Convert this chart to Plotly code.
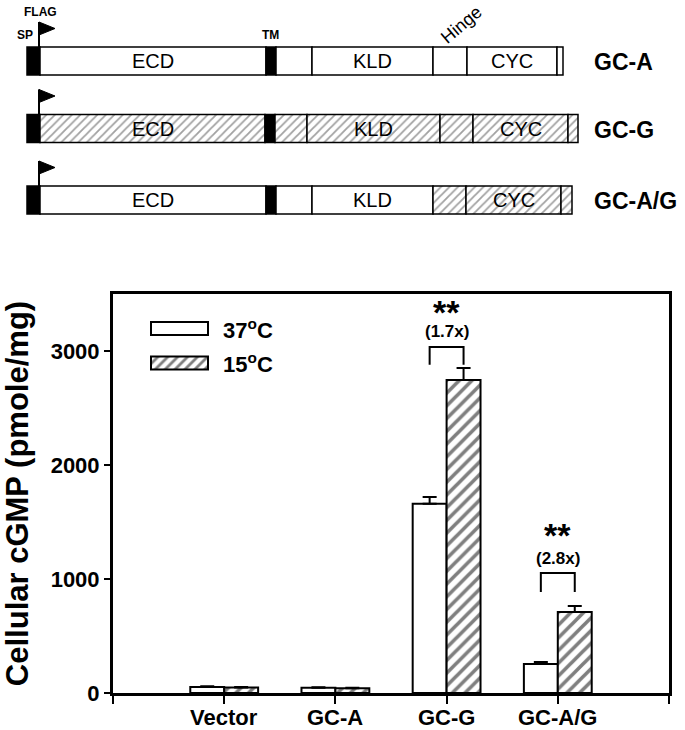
import plotly.graph_objects as go

W, H = 685, 730

# ---- bar chart data ----
groups = ['Vector', 'GC-A', 'GC-G', 'GC-A/G']
cgmp_37 = [53, 45, 1660, 254]
err_37 = [6, 5, 60, 18]
cgmp_15 = [48, 42, 2745, 710]
err_15 = [5, 4, 105, 53]
fold_text = ['', '', '(1.7x)', '(2.8x)']
bracket_low = [None, None, 2880, 886]
bracket_high = [None, None, 3035, 1053]
fold_y = [None, None, 3167, 1184]
star_y = [None, None, 3340, 1385]
y_ticks = [0, 1000, 2000, 3000]

# ---- domain schematic (segment edges along each construct) ----
constructs = ['GC-A', 'GC-G', 'GC-A/G']
edges_gca = [27, 40, 266, 276, 312, 433, 467, 557, 563]
edges_gcg = [27, 40, 265, 275, 307, 440, 473, 568, 578]
edges_gcag = [27, 40, 266, 276, 312, 433, 466, 561, 572]
kinds_gca = ['k', 'w', 'k', 'w', 'w', 'w', 'w', 'w']
kinds_gcg = ['k', 'h', 'k', 'h', 'h', 'h', 'h', 'h']
kinds_gcag = ['k', 'w', 'k', 'w', 'w', 'h', 'h', 'h']
seg_names = ['', 'ECD', '', '', 'KLD', '', 'CYC', '']

FONT = 'Arial, Liberation Sans, sans-serif'
bw = 0.305  # bar width in category units

fig = go.Figure()

# main bars
xs = [i + 1 for i in range(len(groups))]
fig.add_trace(go.Bar(x=xs, y=cgmp_37, width=bw, offset=-bw, name='37C',
                     marker=dict(color='white', line=dict(color='black', width=2)),
                     error_y=dict(type='data', array=err_37, arrayminus=[0] * 4, symmetric=False,
                                  color='black', thickness=2, width=7)))
fig.add_trace(go.Bar(x=xs, y=cgmp_15, width=bw, offset=0, name='15C',
                     marker=dict(color='white', line=dict(color='black', width=2),
                                 pattern=dict(shape='/', fgcolor='black', bgcolor='white',
                                              size=9, solidity=0.4)),
                     error_y=dict(type='data', array=err_15, arrayminus=[0] * 4, symmetric=False,
                                  color='black', thickness=2, width=7)))

shapes = []
annotations = []

# significance brackets
for i, g in enumerate(groups):
    if bracket_low[i] is None:
        continue
    x0, x1 = xs[i] - bw / 2, xs[i] + bw / 2
    shapes.append(dict(type='path', xref='x', yref='y',
                       path=f'M {x0},{bracket_low[i]} L {x0},{bracket_high[i]} '
                            f'L {x1},{bracket_high[i]} L {x1},{bracket_low[i]}',
                       line=dict(color='black', width=2)))
    annotations.append(dict(x=xs[i], y=fold_y[i], xref='x', yref='y', text=fold_text[i],
                            showarrow=False, font=dict(size=17, family=FONT, weight='bold')))
    annotations.append(dict(x=xs[i], y=star_y[i], xref='x', yref='y', text='**',
                            showarrow=False, yanchor='middle',
                            font=dict(size=34, family=FONT, weight='bold')))

# category labels under the x axis
for x, g in zip(xs, groups):
    annotations.append(dict(x=x, y=717, xref='x', yref='y2', text=g, showarrow=False,
                            yanchor='middle', font=dict(size=22, family=FONT, weight='bold')))

# schematic rows drawn in pixel space on overlay axes
row_y = [61, 128.5, 200]
row_h = 28
rows = [(edges_gca, kinds_gca), (edges_gcg, kinds_gcg), (edges_gcag, kinds_gcag)]
for (edges, kinds), yc, name in zip(rows, row_y, constructs):
    starts = edges[:-1]
    lengths = [b - a for a, b in zip(edges[:-1], edges[1:])]
    colors = ['black' if k == 'k' else 'white' for k in kinds]
    pats = ['/' if k == 'h' else '' for k in kinds]
    fig.add_trace(go.Bar(orientation='h', y=[yc] * len(starts), x=lengths, base=starts,
                         width=row_h, offset=-row_h / 2, xaxis='x2', yaxis='y2',
                         showlegend=False, hoverinfo='skip',
                         marker=dict(color=colors, line=dict(color='black', width=1.5),
                                     pattern=dict(shape=pats, fgcolor='#8a8a8a', bgcolor='white',
                                                  size=6, solidity=0.3))))
    for s, e, lab in zip(edges[:-1], edges[1:], seg_names):
        if lab:
            annotations.append(dict(x=(s + e) / 2, y=yc, xref='x2', yref='y2', text=lab,
                                    showarrow=False, font=dict(size=20, family=FONT, color='black')))
    annotations.append(dict(x=592, y=yc + 1, xref='x2', yref='y2', text=name, xanchor='left',
                            showarrow=False, font=dict(size=23, family=FONT, weight='bold')))
    # FLAG marker
    top = yc - row_h / 2
    fx = edges[1] - 1
    shapes.append(dict(type='line', xref='x2', yref='y2', x0=fx, x1=fx, y0=top - 25, y1=top,
                       line=dict(color='black', width=2)))
    shapes.append(dict(type='path', xref='x2', yref='y2',
                       path=f'M {fx},{top - 25} L {fx + 16},{top - 18.5} L {fx},{top - 12} Z',
                       fillcolor='black', line=dict(color='black', width=1)))

annotations += [
    dict(x=40, y=12, xref='x2', yref='y2', text='FLAG', showarrow=False,
         font=dict(size=12, family=FONT, weight='bold')),
    dict(x=25, y=35, xref='x2', yref='y2', text='SP', showarrow=False,
         font=dict(size=12, family=FONT, weight='bold')),
    dict(x=270, y=35, xref='x2', yref='y2', text='TM', showarrow=False,
         font=dict(size=12, family=FONT, weight='bold')),
    dict(x=461, y=25, xref='x2', yref='y2', text='Hinge', showarrow=False, textangle=-40,
         font=dict(size=18, family=FONT)),
]

# custom legend
leg_y = [328.5, 363]
leg_text = ['37<sup>o</sup>C', '15<sup>o</sup>C']
for yc, txt, pat in zip(leg_y, leg_text, ['', '/']):
    fig.add_trace(go.Bar(orientation='h', y=[yc], x=[57], base=[151], width=13, offset=-6.5,
                         xaxis='x2', yaxis='y2', showlegend=False, hoverinfo='skip',
                         marker=dict(color='white', line=dict(color='black', width=2),
                                     pattern=dict(shape=pat, fgcolor='black', bgcolor='white',
                                                  size=7, solidity=0.4))))
    annotations.append(dict(x=221, y=yc, xref='x2', yref='y2', text=txt, xanchor='left',
                            showarrow=False, font=dict(size=22, family=FONT, weight='bold')))

fig.update_layout(
    width=W, height=H, margin=dict(l=0, r=0, t=0, b=0),
    paper_bgcolor='white', plot_bgcolor='rgba(0,0,0,0)',
    barmode='overlay', showlegend=False,
    font=dict(family=FONT, color='black'),
    xaxis=dict(domain=[113 / W, 669 / W], range=[0, 5], tickvals=[0, 1, 2, 3, 4, 5],
               ticktext=[''] * 6, showline=True, linewidth=3, linecolor='black',
               mirror=True, ticks='outside', ticklen=8, tickwidth=2, tickcolor='black',
               showgrid=False, zeroline=False, automargin=False),
    yaxis=dict(domain=[37 / H, 436 / H], range=[0, 3500], tickvals=y_ticks,
               showline=True, linewidth=3, linecolor='black', mirror=True,
               ticks='outside', ticklen=6, tickwidth=2, tickcolor='black',
               showgrid=False, zeroline=False, automargin=False,
               tickfont=dict(size=22, family=FONT, weight='bold'),
               title=dict(text='Cellular cGMP (pmole/mg)', standoff=14,
                          font=dict(size=31, family=FONT, weight='bold'))),
    xaxis2=dict(domain=[0, 1], range=[0, W], visible=False, fixedrange=True, anchor='y2'),
    yaxis2=dict(domain=[0, 1], range=[H, 0], visible=False, fixedrange=True, anchor='x2'),
    shapes=shapes, annotations=annotations,
)

fig.write_html('out.html', config={'displayModeBar': False},
               post_script="document.body.style.margin='0px';")
